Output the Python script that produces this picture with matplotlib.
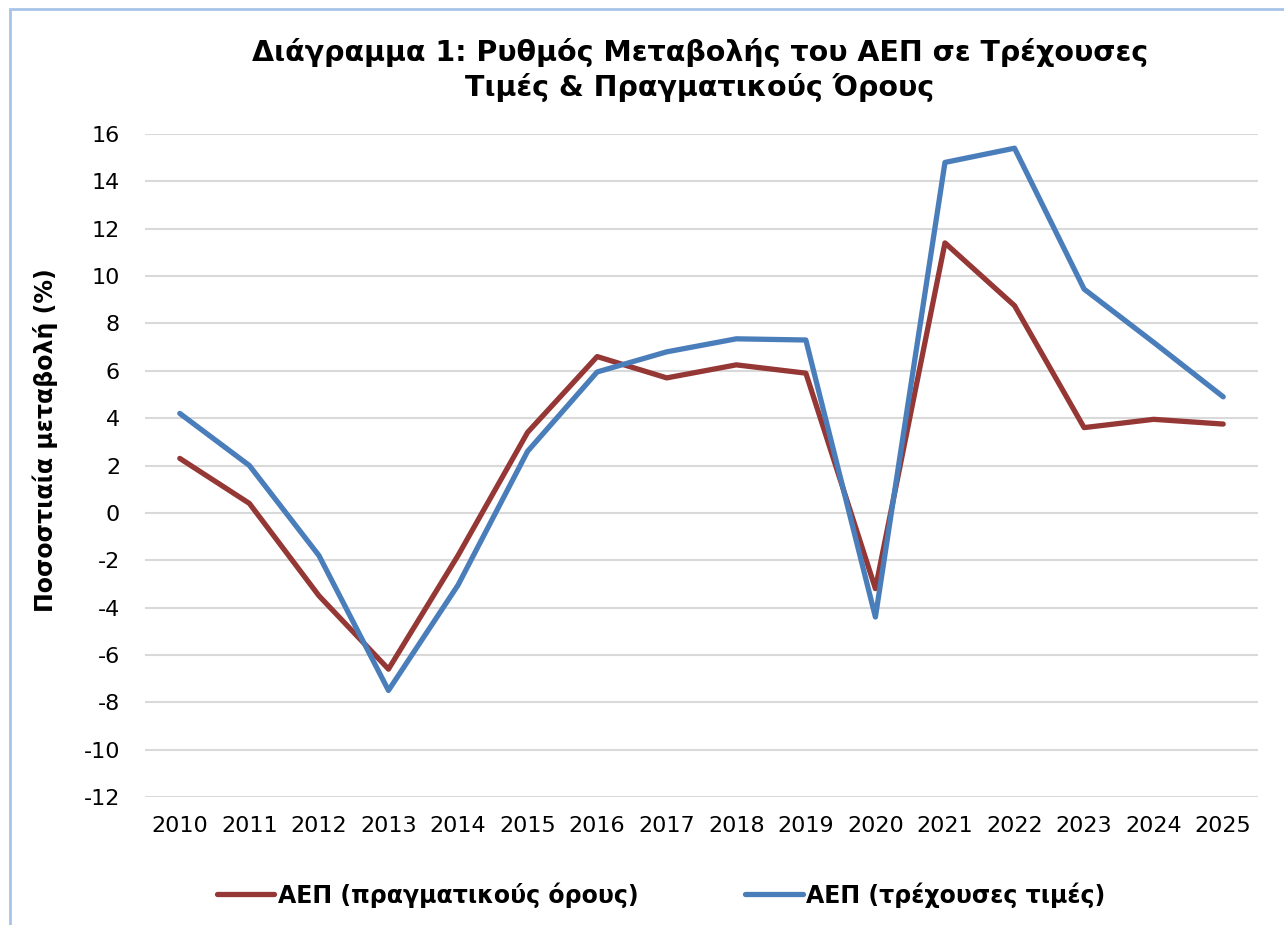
import matplotlib
matplotlib.use("Agg")
import matplotlib.pyplot as plt
from matplotlib.patches import Rectangle

years = [2010, 2011, 2012, 2013, 2014, 2015, 2016, 2017, 2018, 2019,
         2020, 2021, 2022, 2023, 2024, 2025]
real_gdp = [2.3, 0.4, -3.5, -6.6, -1.8, 3.4, 6.6, 5.7, 6.25, 5.9,
            -3.2, 11.4, 8.75, 3.6, 3.95, 3.75]
nominal_gdp = [4.2, 2.0, -1.8, -7.5, -3.05, 2.6, 5.95, 6.8, 7.35, 7.3,
               -4.4, 14.8, 15.4, 9.45, 7.2, 4.9]
yticks = list(range(-12, 17, 2))
title = "Διάγραμμα 1: Ρυθμός Μεταβολής του ΑΕΠ σε Τρέχουσες\nΤιμές & Πραγματικούς Όρους"
ylabel = "Ποσοστιαία μεταβολή (%)"
label_real = "ΑΕΠ (πραγματικούς όρους)"
label_nom = "ΑΕΠ (τρέχουσες τιμές)"

plt.rcParams['font.family'] = ['DejaVu Sans']
plt.rcParams['axes.unicode_minus'] = False

fig = plt.figure(figsize=(12.84, 9.25), dpi=100)
fig.patches.append(Rectangle((10/1284, -0.1), 1.2, 1 - 9/925 + 0.1,
                             transform=fig.transFigure, fill=False,
                             edgecolor='#A6C4E8', linewidth=2))
ax = fig.add_axes([145/1284, 1 - 797/925, (1258 - 145)/1284, (797 - 134)/925])

ax.plot(years, real_gdp, color='#953735', linewidth=3.8, label=label_real,
        solid_joinstyle='round', solid_capstyle='round', zorder=3)
ax.plot(years, nominal_gdp, color='#4A7EBB', linewidth=3.8, label=label_nom,
        solid_joinstyle='round', solid_capstyle='round', zorder=3)

ax.set_xlim(2009.5, 2025.5)
ax.set_ylim(-12, 16)
ax.set_yticks(yticks)
ax.set_xticks(years)
ax.set_xticklabels([str(y) for y in years])
ax.grid(axis='y', color='#D9D9D9', linewidth=1.5)
ax.set_axisbelow(True)
for s in ax.spines.values():
    s.set_visible(False)
ax.tick_params(axis='both', length=0, labelsize=16, colors='black')
ax.tick_params(axis='y', pad=18)
ax.tick_params(axis='x', pad=14)

ax.set_ylabel(ylabel, fontsize=17, fontweight='bold')
ax.yaxis.set_label_coords(-87/1113, (797 - 440)/663)

fig.text(700/1284, 1 - 70/925, title, ha='center', va='center',
         fontsize=20.5, fontweight='bold', linespacing=1.28)

leg = fig.legend(loc='center', bbox_to_anchor=(661/1284, 1 - 895/925), ncol=2,
                 frameon=False, prop={'size': 17, 'weight': 'bold'},
                 handlelength=2.45, columnspacing=4.5, handletextpad=0.15)

fig.savefig("out.png", dpi=100)
